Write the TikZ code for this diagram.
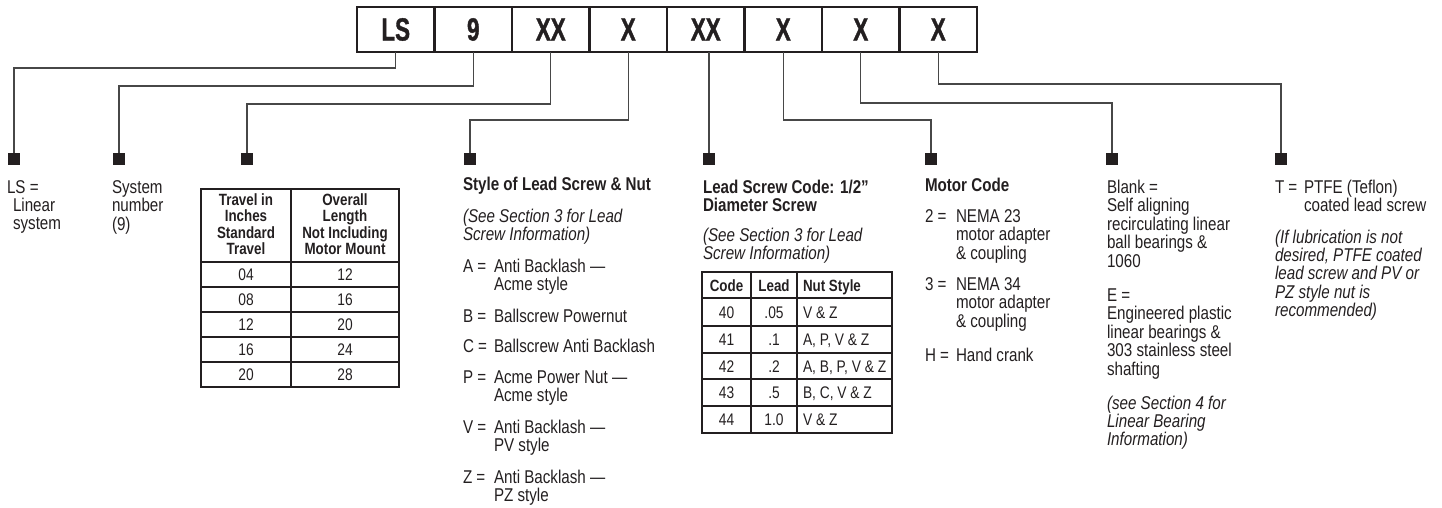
\documentclass[tikz,border=0pt]{standalone}
\usepackage{fontspec}
\setmainfont{Liberation Sans}[FakeStretch=0.82]
\newfontfamily\boxfont{Liberation Sans}[FakeStretch=0.7,FakeBold=1.2]
\definecolor{ink}{HTML}{231F20}
\definecolor{connc}{HTML}{474747}
\newcommand\tstr{\rule{0pt}{14pt}}
\newcommand\hstr{\rule{0pt}{12pt}}
\tikzset{
 body/.style={font=\fontsize{18.5}{18.5}\selectfont, inner sep=0pt, outer sep=0pt, anchor=north west, align=left, text=ink},
 bodyb/.style={body, font=\fontsize{18.5}{18.5}\selectfont\bfseries},
 bodyi/.style={body, font=\fontsize{18.5}{18.4}\selectfont\itshape},
 tcell/.style={font=\fontsize{16.8}{16.5}\selectfont, inner sep=0pt, outer sep=0pt, anchor=base, text=ink},
 tcellb/.style={tcell, font=\fontsize{16.3}{16.5}\selectfont\bfseries},
 thead/.style={font=\fontsize{16.3}{16.5}\selectfont\bfseries, inner sep=0pt, outer sep=0pt, anchor=north, align=center, text=ink},
 conn/.style={draw=connc, line width=1.2pt},
 dot/.style={fill=ink, minimum size=12pt, inner sep=0pt, outer sep=0pt},
 codebox/.style={draw=ink, line width=2.4pt, minimum width=77.5pt, minimum height=45pt, inner sep=0pt, outer sep=0pt, font=\boxfont\bfseries\fontsize{32}{32}\selectfont, text=ink},
 tline/.style={draw=ink, line width=1.1pt},
 tthick/.style={draw=ink, line width=2.6pt},
}
\begin{document}
\begin{tikzpicture}[x=1pt,y=-1pt]
\useasboundingbox (0,0) rectangle (1442,508);

% code boxes
\node[codebox] (b1) at (395.75,29.5) {LS};
\node[codebox] (b2) at (473.25,29.5) {9};
\node[codebox] (b3) at (550.75,29.5) {XX};
\node[codebox] (b4) at (628.25,29.5) {X};
\node[codebox] (b5) at (705.75,29.5) {XX};
\node[codebox] (b6) at (783.25,29.5) {X};
\node[codebox] (b7) at (860.75,29.5) {X};
\node[codebox] (b8) at (938.25,29.5) {X};

% bullets
\node[dot] (d1) at (14,159) {};
\node[dot] (d2) at (119,159) {};
\node[dot] (d3) at (247,159) {};
\node[dot] (d4) at (470,159) {};
\node[dot] (d5) at (709,159) {};
\node[dot] (d6) at (931,159) {};
\node[dot] (d7) at (1112,159) {};
\node[dot] (d8) at (1281,159) {};

% connectors
\draw[conn] (b1.south) -- ++(0,16) -| (d1.north);
\draw[conn] (b2.south) -- ++(0,34) -| (d2.north);
\draw[conn] (b3.south) -- ++(0,52) -| (d3.north);
\draw[conn] (b4.south) -- ++(0,68) -| (d4.north);
\draw[conn] (b5.south -| d5) -- (d5.north);
\draw[conn] (b6.south) -- ++(0,68) -| (d6.north);
\draw[conn] (b7.south) -- ++(0,51) -| (d7.north);
\draw[conn] (b8.south) -- ++(0,32) -| (d8.north);

% LS
\node[body] (lsA) at (7,179) {\tstr LS =};
\node[body] (lsB) at (13,197) {\tstr Linear\\system};
% system
\node[body] (sys) at (112,179) {\tstr System\\number\\(9)};

% table 1
\draw[tline] (201,189) rectangle (399,387);
\draw[tline] (291,189) -- (291,387);
\draw[tthick] (201,262) -- (399,262);
\foreach \yy in {287,312,337,362} \draw[tline] (201,\yy) -- (399,\yy);
\node[thead] (t1h1) at (246,193) {\hstr Travel in\\Inches\\Standard\\Travel};
\node[thead] (t1h2) at (345,193) {\hstr Overall\\Length\\Not Including\\Motor Mount};
\node[tcell] (t1a1) at (246,280) {04}; \node[tcell] (t1b1) at (345,280) {12};
\node[tcell] (t1a2) at (246,305) {08}; \node[tcell] (t1b2) at (345,305) {16};
\node[tcell] (t1a3) at (246,330) {12}; \node[tcell] (t1b3) at (345,330) {20};
\node[tcell] (t1a4) at (246,355) {16}; \node[tcell] (t1b4) at (345,355) {24};
\node[tcell] (t1a5) at (246,380) {20}; \node[tcell] (t1b5) at (345,380) {28};

% style of lead screw
\node[bodyb] (styH) at (463,176) {\tstr Style of Lead Screw \& Nut};
\node[bodyi] (styI) at (463,208) {\tstr (See Section 3 for Lead\\Screw Information)};
\node[body] (sAl) at (463,258) {\tstr A =};
\node[body] (sAt) at (494,258) {\tstr Anti Backlash —\\Acme style};
\node[body] (sBl) at (463,308) {\tstr B =};
\node[body] (sBt) at (494,308) {\tstr Ballscrew Powernut};
\node[body] (sCl) at (463,338) {\tstr C =};
\node[body] (sCt) at (494,338) {\tstr Ballscrew Anti Backlash};
\node[body] (sPl) at (463,369) {\tstr P =};
\node[body] (sPt) at (494,369) {\tstr Acme Power Nut —\\Acme style};
\node[body] (sVl) at (463,419) {\tstr V =};
\node[body] (sVt) at (494,419) {\tstr Anti Backlash —\\PV style};
\node[body] (sZl) at (463,469) {\tstr Z =};
\node[body] (sZt) at (494,469) {\tstr Anti Backlash —\\PZ style};

% lead screw code
\node[bodyb] (leadH) at (703,179) {\tstr Lead Screw Code: 1/2”\\Diameter Screw};
\node[bodyi] (leadI) at (703,227) {\tstr (See Section 3 for Lead\\Screw Information)};
\draw[tline] (702,272) rectangle (892,433);
\draw[tline] (751,272) -- (751,433);
\draw[tline] (797,272) -- (797,433);
\draw[tthick] (702,298) -- (892,298);
\foreach \yy in {326,353,379,406} \draw[tline] (702,\yy) -- (892,\yy);
\node[tcellb] (t2h1) at (726.5,291) {Code};
\node[tcellb] (t2h2) at (774,291) {Lead};
\node[tcellb, anchor=base west] (t2h3) at (803,291) {Nut Style};
\node[tcell] (t2a1) at (726.5,318) {40}; \node[tcell] (t2b1) at (774,318) {.05}; \node[tcell, anchor=base west] (t2c1) at (803,318) {V \& Z};
\node[tcell] (t2a2) at (726.5,345) {41}; \node[tcell] (t2b2) at (774,345) {.1}; \node[tcell, anchor=base west] (t2c2) at (803,345) {A, P, V \& Z};
\node[tcell] (t2a3) at (726.5,372) {42}; \node[tcell] (t2b3) at (774,372) {.2}; \node[tcell, anchor=base west] (t2c3) at (803,372) {A, B, P, V \& Z};
\node[tcell] (t2a4) at (726.5,398) {43}; \node[tcell] (t2b4) at (774,398) {.5}; \node[tcell, anchor=base west] (t2c4) at (803,398) {B, C, V \& Z};
\node[tcell] (t2a5) at (726.5,425) {44}; \node[tcell] (t2b5) at (774,425) {1.0}; \node[tcell, anchor=base west] (t2c5) at (803,425) {V \& Z};

% motor code
\node[bodyb] (motH) at (925,177) {\tstr Motor Code};
\node[body] (m2l) at (925,208) {\tstr 2 =};
\node[body] (m2t) at (956,208) {\tstr NEMA 23\\motor adapter\\\& coupling};
\node[body] (m3l) at (925,276) {\tstr 3 =};
\node[body] (m3t) at (956,276) {\tstr NEMA 34\\motor adapter\\\& coupling};
\node[body] (mHl) at (925,347) {\tstr H =};
\node[body] (mHt) at (956,347) {\tstr Hand crank};

% bearings
\node[body] (blank) at (1107,179) {\tstr Blank =\\Self aligning\\recirculating linear\\ball bearings \&\\1060};
\node[body] (eng) at (1107,287) {\tstr E =\\Engineered plastic\\linear bearings \&\\303 stainless steel\\shafting};
\node[bodyi] (bearI) at (1107,395) {\tstr (see Section 4 for\\Linear Bearing\\Information)};

% teflon
\node[body] (tl) at (1275,179) {\tstr T =};
\node[body] (tt) at (1304,179) {\tstr PTFE (Teflon)\\coated lead screw};
\node[bodyi] (tI) at (1275,229) {\tstr (If lubrication is not\\desired, PTFE coated\\lead screw and PV or\\PZ style nut is\\recommended)};
\end{tikzpicture}
\end{document}
